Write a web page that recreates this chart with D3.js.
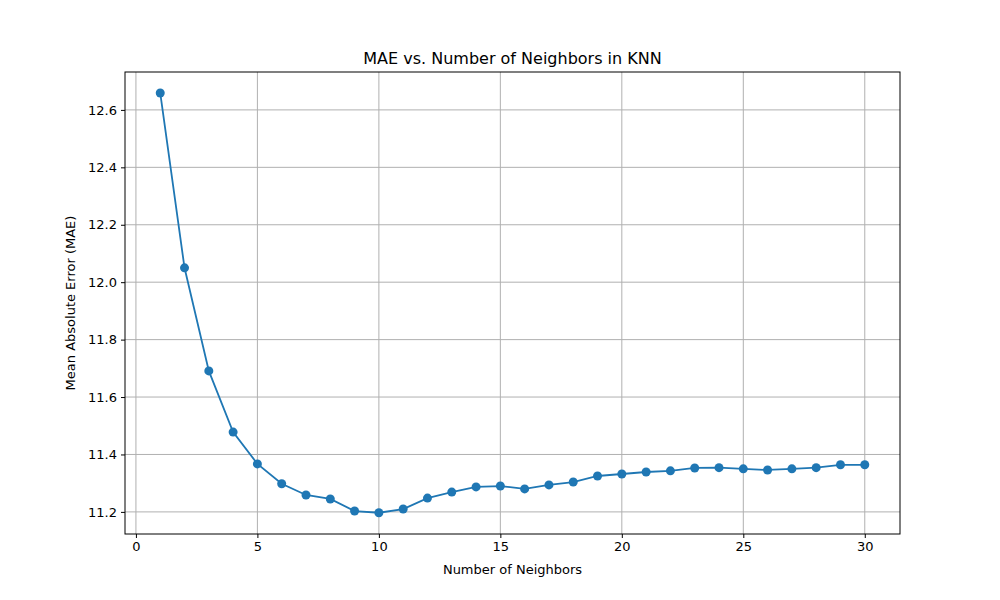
<!DOCTYPE html>
<meta charset="utf-8">
<style>
	body { margin: 0; background: #fff; }
	text { font-family: "DejaVu Sans", sans-serif; }
	.tick text { font-size: 13px; fill: #000; }
	.grid line { stroke: #b0b0b0; stroke-width: 1; }
</style>
<body>
<script src="https://d3js.org/d3.v7.min.js"></script>
<script>

	var neighbors = d3.range(1, 31);
	var mae = [12.659, 12.050, 11.691, 11.478, 11.367, 11.298, 11.259, 11.245, 11.203, 11.197,
		11.210, 11.248, 11.269, 11.287, 11.290, 11.280, 11.294, 11.304, 11.325, 11.332,
		11.339, 11.343, 11.353, 11.354, 11.350, 11.346, 11.350, 11.354, 11.364, 11.364];
	var xTicks = [0, 5, 10, 15, 20, 25, 30];
	var yTicks = [11.2, 11.4, 11.6, 11.8, 12.0, 12.2, 12.4, 12.6];

	var width = 1000, height = 600;
	var plotLeft = 125, plotRight = 900, plotTop = 72, plotBottom = 534;

	var svg = d3.select("body").append("svg")
		.attr("width", width)
		.attr("height", height);

	var x = d3.scaleLinear().domain([-0.45, 31.45]).range([plotLeft, plotRight]);
	var y = d3.scaleLinear().domain([11.123, 12.732]).range([plotBottom, plotTop]);

	// grid
	svg.append("g").attr("class", "grid")
		.selectAll("line").data(xTicks).enter().append("line")
		.attr("x1", function(d) { return x(d); }).attr("x2", function(d) { return x(d); })
		.attr("y1", plotTop).attr("y2", plotBottom);
	svg.append("g").attr("class", "grid")
		.selectAll("line").data(yTicks).enter().append("line")
		.attr("y1", function(d) { return y(d); }).attr("y2", function(d) { return y(d); })
		.attr("x1", plotLeft).attr("x2", plotRight);

	svg.append("g")
		.attr("transform", "translate(0," + plotBottom + ")")
		.call(d3.axisBottom(x).tickValues(xTicks).tickSize(4).tickPadding(4).tickFormat(d3.format("d")))
		.call(function(g) { g.select(".domain").remove(); });
	svg.append("g")
		.attr("transform", "translate(" + plotLeft + ",0)")
		.call(d3.axisLeft(y).tickValues(yTicks).tickSize(4).tickPadding(4).tickFormat(d3.format(".1f")))
		.call(function(g) { g.select(".domain").remove(); });

	svg.append("rect")
		.attr("x", plotLeft).attr("y", plotTop)
		.attr("width", plotRight - plotLeft).attr("height", plotBottom - plotTop)
		.attr("fill", "none").attr("stroke", "#000").attr("stroke-width", 1);

	var line = d3.line()
		.x(function(d, i) { return x(neighbors[i]); })
		.y(function(d) { return y(d); });

	svg.append("path")
		.datum(mae)
		.attr("d", line)
		.attr("fill", "none")
		.attr("stroke", "#1f77b4")
		.attr("stroke-width", 1.8);

	svg.selectAll(".dot")
		.data(mae)
		.enter().append("circle")
		.attr("cx", function(d, i) { return x(neighbors[i]); })
		.attr("cy", function(d) { return y(d); })
		.attr("r", 4.5)
		.attr("fill", "#1f77b4");

	svg.append("text")
		.attr("x", (plotLeft + plotRight) / 2).attr("y", 64)
		.attr("text-anchor", "middle")
		.style("font-size", "16px")
		.text("MAE vs. Number of Neighbors in KNN");

	svg.append("text")
		.attr("x", (plotLeft + plotRight) / 2).attr("y", 574)
		.attr("text-anchor", "middle")
		.style("font-size", "13px")
		.text("Number of Neighbors");

	svg.append("text")
		.attr("transform", "translate(75," + (plotTop + plotBottom) / 2 + ") rotate(-90)")
		.attr("text-anchor", "middle")
		.style("font-size", "13px")
		.text("Mean Absolute Error (MAE)");
</script>
